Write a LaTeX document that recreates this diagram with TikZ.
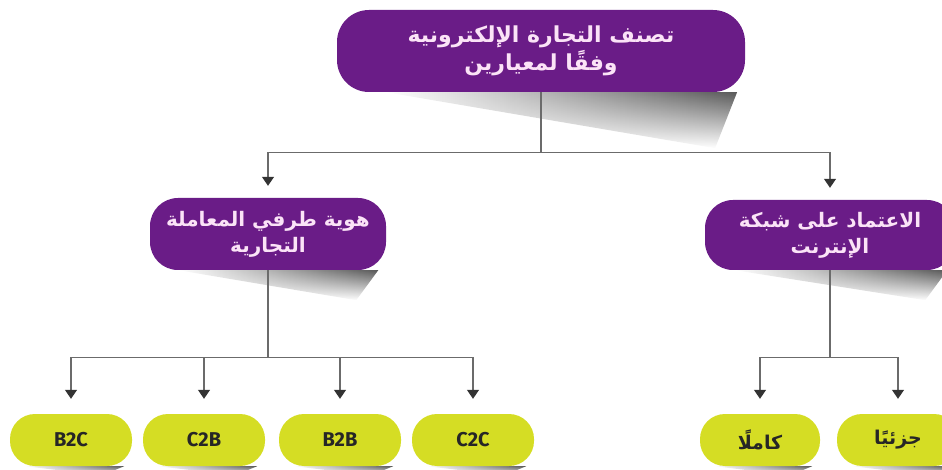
\documentclass[tikz,border=0pt]{standalone}
\usepackage{fontspec}
\setmainfont{Fira Sans}
\newfontfamily\arabicfont[Script=Arabic]{DejaVu Sans}
\TeXXeTstate=1
\usetikzlibrary{arrows.meta,calc,backgrounds,fadings}
\definecolor{catpurple}{HTML}{6A1C87}
\definecolor{catyellow}{HTML}{D5DD24}
\definecolor{catpink}{HTML}{FBE3F7}
\definecolor{catline}{HTML}{6B6B6B}

\begin{document}
\begin{tikzpicture}[
  x=1pt, y=-1pt,
  pbox/.style={fill=catpurple, text=catpink, rounded corners=28pt, align=center,
    font=\arabicfont\bfseries\fontsize{20}{26}\selectfont},
  ybox/.style={fill=catyellow, text=black!85, rounded corners=25pt,
    minimum width=122pt, minimum height=52pt, font=\bfseries\fontsize{20}{24}\selectfont},
  artext/.style={font=\arabicfont\bfseries\fontsize{19}{22}\selectfont},
  conn/.style={draw=catline, line width=1.2pt,
    -{Triangle[width=12pt,length=9pt,color=black!80]}}
]
\useasboundingbox (0,0) rectangle (942,470);

\node[pbox, minimum width=408pt, minimum height=82pt, rounded corners=32pt,
  font=\arabicfont\bfseries\fontsize{22}{28}\selectfont] (top) at (541,51)
  {\beginR تصنف التجارة الإلكترونية\endR\\\beginR وفقًا لمعيارين\endR};

\node[pbox, minimum width=236pt, minimum height=72pt] (lmid) at (268,234)
  {\beginR هوية طرفي المعاملة\endR\\\beginR التجارية\endR};
\node[pbox, minimum width=250pt, minimum height=70pt] (rmid) at (830,235)
  {\beginR الاعتماد على شبكة\endR\\\beginR الإنترنت\endR};

\node[ybox] (b2c) at (71,440) {B2C};
\node[ybox] (c2b) at (204,440) {C2B};
\node[ybox] (b2b) at (340,440) {B2B};
\node[ybox] (c2c) at (473,440) {C2C};
\node[ybox, artext, minimum width=120pt] (full) at (760,440) {\beginR كاملًا\endR};
\node[ybox, artext] (part) at (898,440) {\beginR جزئيًا\endR};

% shadows under the boxes
\begin{scope}[on background layer]
\foreach \n/\d in {top/56, lmid/30, rmid/30, b2c/9, c2b/9, b2b/9, c2c/9, full/9, part/9}
  \shade[left color=white, right color=black!65, path fading=south]
    ($(\n.south west)!0.12!(\n.south east)$) -- ($(\n.south east)+(-8,0)$)
    -- ($(\n.south east)+(-30,\d)$) -- cycle;
\end{scope}

\draw[conn, shorten >=12pt] (top.south) -- ++(0,60) -| (lmid.north);
\draw[conn, shorten >=12pt] (top.south) -- ++(0,60) -| (rmid.north);

\foreach \t in {b2c, c2b, b2b, c2c}
  \draw[conn, shorten >=15pt] (lmid.south) -- ++(0,87) -| (\t.north);
\foreach \t in {full, part}
  \draw[conn, shorten >=15pt] (rmid.south) -- ++(0,87) -| (\t.north);
\end{tikzpicture}
\end{document}
